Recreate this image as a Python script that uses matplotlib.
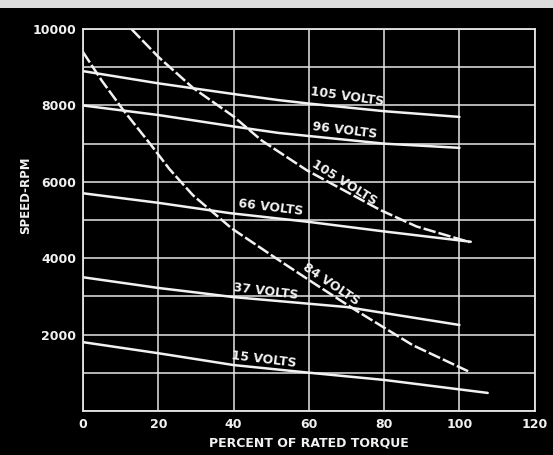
import matplotlib.pyplot as plt
from matplotlib.patches import Rectangle

# Solid curves: constant voltage (percent torque, rpm)
v105_x = [0, 20, 40, 52, 60, 80, 100]
v105_y = [8900, 8580, 8300, 8140, 8050, 7850, 7700]
v96_x = [0, 20, 40, 52, 60, 80, 100]
v96_y = [8000, 7750, 7450, 7280, 7200, 7000, 6890]
v66_x = [0, 20, 39, 60, 80, 103]
v66_y = [5700, 5450, 5180, 4950, 4700, 4430]
v37_x = [0, 20, 31, 40, 70, 100]
v37_y = [3500, 3220, 3090, 2980, 2720, 2250]
v15_x = [0, 20, 31, 40, 60, 80, 107.5]
v15_y = [1800, 1510, 1340, 1200, 1000, 810, 470]

# Dashed curves
d105_x = [12.9, 20, 29.3, 39.9, 47.5, 59.5, 70, 79, 88.6, 102.7]
d105_y = [10000, 9275, 8455, 7720, 7080, 6300, 5740, 5260, 4830, 4420]
d84_x = [0, 5, 10.7, 17.8, 23, 29.2, 39.5, 52, 62, 72.7, 87.6, 102.7]
d84_y = [9400, 8650, 7880, 7000, 6330, 5650, 4780, 3950, 3300, 2620, 1720, 1020]

# Curve labels: text, x, y, rotation
labels = [
    ("105 VOLTS", 70.3, 8230, -8),
    ("96 VOLTS", 69.5, 7340, -7),
    ("105 VOLTS", 69.5, 5990, -32),
    ("66 VOLTS", 50, 5320, -7),
    ("84 VOLTS", 66, 3320, -34),
    ("37 VOLTS", 48.6, 3120, -7),
    ("15 VOLTS", 48, 1340, -7),
]

x_ticks = [0, 20, 40, 60, 80, 100, 120]
y_ticks = [2000, 4000, 6000, 8000, 10000]

fg = "#f2f2f2"
grid_c = "#e6e6e6"

fig = plt.figure(figsize=(5.53, 4.55), dpi=100, facecolor="black")
ax = fig.add_axes([0.150, 0.097, 0.817, 0.839], facecolor="black")

# top white strip of the photo border
fig.patches.append(Rectangle((0, 0.982), 1, 0.018, transform=fig.transFigure,
                             facecolor="#dcdcdc", edgecolor="none"))

ax.set_xlim(0, 120)
ax.set_ylim(0, 10000)
ax.set_xticks(x_ticks)
ax.set_xticks(range(0, 121, 20), minor=True)
ax.set_yticks(y_ticks)
ax.set_yticks(range(0, 10001, 1000), minor=True)
ax.grid(True, which="both", color=grid_c, linewidth=1.1)
ax.set_axisbelow(True)
for s in ax.spines.values():
    s.set_color(grid_c)
    s.set_linewidth(1.3)
ax.tick_params(which="both", length=0, colors=fg, labelsize=9, pad=5)
for lab in ax.get_xticklabels() + ax.get_yticklabels():
    lab.set_fontweight("bold")

lw = 1.8
for xs, ys in [(v105_x, v105_y), (v96_x, v96_y), (v66_x, v66_y),
               (v37_x, v37_y), (v15_x, v15_y)]:
    ax.plot(xs, ys, color=fg, linewidth=lw, solid_capstyle="round")
for xs, ys in [(d105_x, d105_y), (d84_x, d84_y)]:
    ax.plot(xs, ys, color=fg, linewidth=lw, dashes=(5, 1.2))

for txt, x, y, rot in labels:
    ax.text(x, y, txt, color=fg, fontsize=9, fontweight="semibold",
            rotation=rot, rotation_mode="anchor", ha="center", va="center")

ax.set_xlabel("PERCENT OF RATED TORQUE", color=fg, fontsize=9,
              fontweight="bold", labelpad=4)
fig.text(26 / 553, 1 - 195 / 455, "SPEED-RPM", color=fg, fontsize=8.5,
         fontweight="bold", rotation=90, ha="center", va="center")

fig.savefig("out.png", dpi=100, facecolor="black")
